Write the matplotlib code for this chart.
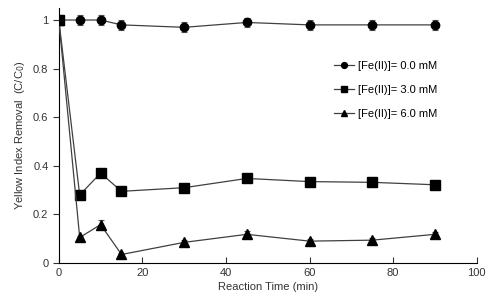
import numpy as np
import matplotlib.pyplot as plt

plt.rcParams['font.family'] = ['Liberation Sans', 'DejaVu Sans']

time_min = [0, 5, 10, 15, 30, 45, 60, 75, 90]
fe_0 = [1.0, 1.0, 1.0, 0.98, 0.97, 0.99, 0.98, 0.98, 0.98]
fe_3 = [1.0, 0.28, 0.37, 0.295, 0.31, 0.348, 0.335, 0.332, 0.322]
fe_6 = [1.0, 0.105, 0.158, 0.035, 0.085, 0.118, 0.09, 0.094, 0.118]
err_0 = [0.02, 0.02, 0.02, 0.02, 0.02, 0.02, 0.02, 0.02, 0.02]
err_3 = [0.01, 0.01, 0.015, 0.01, 0.01, 0.015, 0.01, 0.012, 0.01]
err_6 = [0.01, 0.008, 0.02, 0.008, 0.008, 0.015, 0.008, 0.01, 0.01]
labels = ['[Fe(II)]= 0.0 mM', '[Fe(II)]= 3.0 mM', '[Fe(II)]= 6.0 mM']
markers = ['o', 's', '^']


def main():
    fig = plt.figure(figsize=(4.9, 3.03), dpi=100)
    ax = fig.add_axes([0.120, 0.132, 0.853, 0.842])

    for ys, es, lab, mk in zip([fe_0, fe_3, fe_6], [err_0, err_3, err_6], labels, markers):
        ax.errorbar(time_min, ys, yerr=es, fmt='none', ecolor='#555555',
                    elinewidth=0.8, capsize=2, capthick=0.8, zorder=2)
        ax.plot(time_min, ys, color='#404040', lw=0.9, marker=mk,
                ms=6.5 if mk != 'o' else 6, mfc='black', mec='black',
                label=lab, zorder=3)

    ax.set_xlim(0, 100)
    ax.set_ylim(0, 1.05)
    ax.set_xticks(np.arange(0, 101, 20))
    ax.set_yticks([0, 0.2, 0.4, 0.6, 0.8, 1.0])
    ax.set_yticklabels(['0', '0.2', '0.4', '0.6', '0.8', '1'])
    for s in ['top', 'right']:
        ax.spines[s].set_visible(False)
    ax.tick_params(axis='x', direction='in', length=4, labelsize=8, colors='#333333')
    ax.tick_params(axis='y', direction='out', length=4, labelsize=8, colors='#333333')
    ax.set_xlabel('Reaction Time (min)', fontsize=8, color='#333333', labelpad=3)
    ax.set_ylabel('Yellow Index Removal  (C/C$_0$)', fontsize=8, color='#333333')

    ax.legend(loc='upper right', bbox_to_anchor=(0.93, 0.83), frameon=False,
              fontsize=8, handlelength=1.8, labelspacing=1.25, handletextpad=0.4,
              markerscale=0.7)

    plt.savefig('out.png', dpi=100)


if __name__ == '__main__':
    main()
